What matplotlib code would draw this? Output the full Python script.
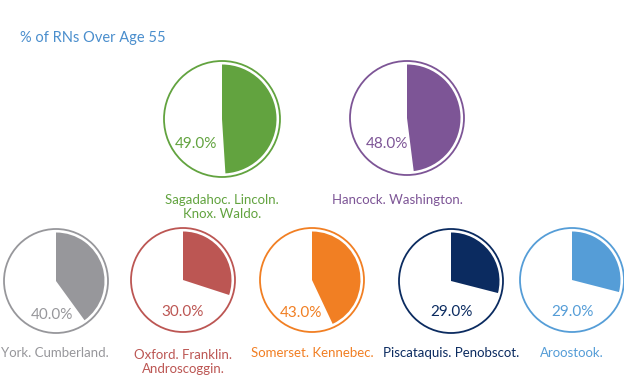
# Percentual de RNs acima de 55 anos por regiao (pizzas em anel).

import matplotlib
matplotlib.use("Agg")
from matplotlib import pyplot as plt
from matplotlib.patches import Circle

TITULO = "% of RNs Over Age 55"
REGIOES = [
    "Sagadahoc. Lincoln.\nKnox. Waldo.",
    "Hancock. Washington.",
    "York. Cumberland.",
    "Oxford. Franklin.\nAndroscoggin.",
    "Somerset. Kennebec.",
    "Piscataquis. Penobscot.",
    "Aroostook.",
]
PERCENTUAIS = [49.0, 48.0, 40.0, 30.0, 43.0, 29.0, 29.0]
CORES = ["#62a33f", "#7d5596", "#97979b", "#bc5653", "#f17f23", "#0b2b60", "#559dd7"]

# layout em pixels (origem no topo): centro, raio, posicao do percentual, posicao do rotulo
CENTROS = [(222, 119), (407, 118), (56, 281), (183, 280), (312, 280), (451, 281), (572, 280)]
RAIOS = [58, 57, 52, 52, 52, 52, 52]
POS_PCT = [(196, 144), (387, 144), (52, 315), (183, 312), (301, 313), (451, 312), (572, 312)]
POS_ROT = [(222, 207), (397, 200), (55, 353), (183, 362), (312, 353), (451, 353), (572, 353)]

W, H = 624, 390
plt.rcParams["font.family"] = ["Lato", "DejaVu Sans"]

fig = plt.figure(figsize=(W / 100, H / 100), dpi=100)
ax = fig.add_axes([0, 0, 1, 1])

for i, pct in enumerate(PERCENTUAIS):
    cx, cy = CENTROS[i]
    r = RAIOS[i]
    cor = CORES[i]
    ax.add_patch(Circle((cx, H - cy), r, facecolor="white", edgecolor=cor, lw=1.3, zorder=1))
    ax.pie([pct, 100 - pct], colors=[cor, "none"], startangle=90, counterclock=False,
           center=(cx, H - cy), radius=r - 3.5, wedgeprops={"linewidth": 0})
    px, py = POS_PCT[i]
    ax.text(px, H - py, f"{pct:.1f}%", color=cor, fontsize=11, ha="center", va="center",
            zorder=5)
    lx, ly = POS_ROT[i]
    ax.text(lx, H - ly, REGIOES[i], color=cor, fontsize=9.5, ha="center", va="center",
            linespacing=1.2, zorder=5)

ax.text(20, H - 38, TITULO, color="#4a8ecd", fontsize=10.5, ha="left", va="center")

ax.set_xlim(0, W)
ax.set_ylim(0, H)
ax.set_aspect("equal")
ax.axis("off")
fig.savefig("out.png", dpi=100)
plt.close(fig)
